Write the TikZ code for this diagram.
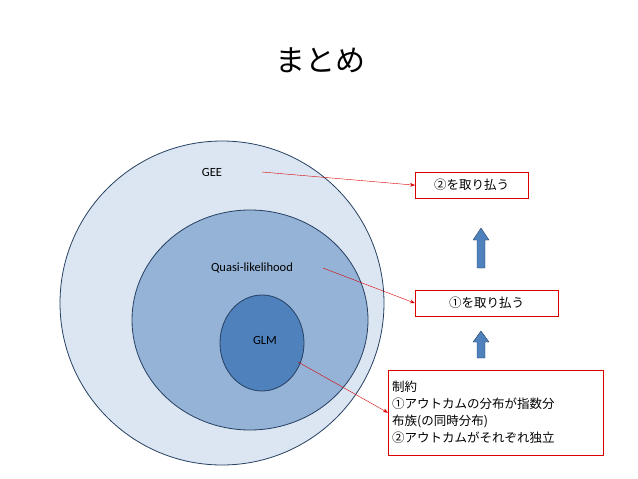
\documentclass[tikz,border=0pt]{standalone}
\usepackage{fontspec}
\setmainfont{Carlito}
\newfontfamily\cjk{Noto Sans CJK JP}
\usetikzlibrary{positioning,arrows.meta}
\definecolor{paleblue}{RGB}{220,230,242}
\definecolor{midblue}{RGB}{149,179,215}
\definecolor{deepblue}{RGB}{79,129,189}
\definecolor{edgeblue}{RGB}{37,64,97}
\begin{document}
\begin{tikzpicture}[x=1pt,y=-1pt,font=\fontsize{12.5}{15}\selectfont]
  \tikzset{
  set/.style={draw=edgeblue,thick},
  note/.style={draw=red!85!black,rectangle,anchor=north west,inner sep=4pt,align=left,
    font=\cjk\fontsize{12.5}{17}\selectfont},
  link/.style={red!85!black,-{Stealth[length=5pt]}},
  up/.style={draw=edgeblue,fill=deepblue}
}
\useasboundingbox (0,0) rectangle (638,479);
\node (title) at (320,60) {\cjk\fontsize{30}{34}\selectfont まとめ};

\draw[set,fill=paleblue] (222,303) circle (162);
\draw[set,fill=midblue] (250,320) ellipse (118 and 110);
\draw[set,fill=deepblue] (262,343) ellipse (42 and 48);

\node (gee) at (212,172) {GEE};
\node (quasi) at (252,268) {Quasi-likelihood};
\node (glm) at (265,340) {GLM};

\node[note,minimum width=113pt,minimum height=26pt] (free2) at (415,172) {②を取り払う};
\node[note,minimum width=143pt,minimum height=26pt] (free1) at (415,290) {①を取り払う};
\node[note,text width=207pt,minimum height=85pt] (cons) at (388,370)
  {制約\\①アウトカムの分布が指数分\\布族(の同時分布)\\②アウトカムがそれぞれ独立};

\coordinate (geeend) at (262,172);
\coordinate (quasiend) at (323,268);
\coordinate (glmend) at (298,362);
\draw[link] (geeend) -- (free2.west);
\draw[link] (quasiend) -- (free1.west);
\draw[link] (glmend) -- (cons.west);

% block arrows
\draw[up] (477,268) -- (477,240) -- (473,240) -- (481,228) -- (489,240) -- (485,240) -- (485,268) -- cycle;
\draw[up] (477,358) -- (477,342) -- (473,342) -- (481,331) -- (489,342) -- (485,342) -- (485,358) -- cycle;
\end{tikzpicture}
\end{document}
